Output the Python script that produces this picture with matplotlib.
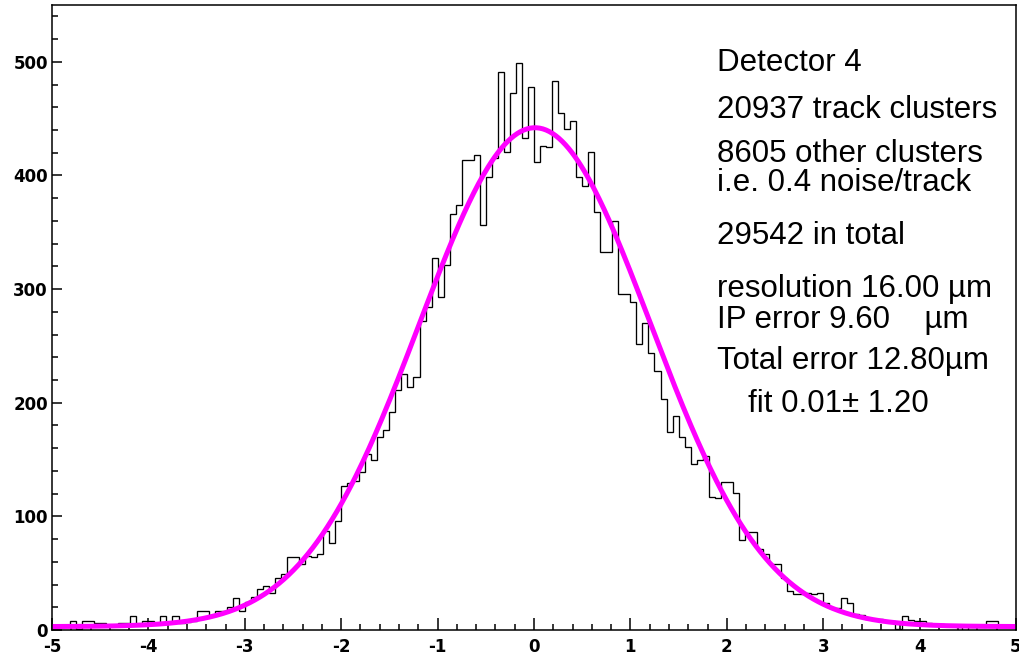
import numpy as np
import matplotlib
matplotlib.use("Agg")
import matplotlib.pyplot as plt
from matplotlib.ticker import MultipleLocator

# ---- data ----
x_min, x_max = -5.0, 5.0
n_bins = 160
counts = [
    3, 3, 4, 8, 1, 8, 8, 6, 6, 4,
    4, 6, 6, 12, 5, 8, 8, 5, 12, 7,
    12, 6, 7, 8, 17, 17, 13, 17, 17, 20,
    28, 17, 25, 29, 36, 39, 33, 46, 49, 64,
    64, 58, 65, 64, 67, 87, 77, 96, 127, 129,
    131, 139, 155, 150, 170, 176, 192, 211, 225, 214,
    223, 272, 284, 327, 293, 321, 366, 374, 414, 414,
    418, 356, 399, 415, 491, 421, 473, 499, 433, 478,
    412, 426, 425, 483, 455, 441, 448, 399, 391, 421,
    368, 333, 333, 360, 296, 296, 289, 252, 270, 244,
    228, 203, 174, 188, 170, 161, 146, 150, 153, 117,
    116, 130, 130, 121, 79, 86, 86, 71, 67, 58,
    58, 46, 34, 32, 32, 33, 32, 33, 24, 19,
    19, 28, 24, 14, 13, 10, 10, 10, 8, 8,
    1, 12, 9, 8, 8, 6, 5, 5, 4, 4,
    3, 0, 3, 3, 3, 8, 8, 3, 3, 3,
]
# fit parameters (Gaussian + flat background)
fit_mean = 0.01
fit_sigma = 1.20
fit_amp = 439.0
fit_bkg = 3.0

x_ticks = [-5, -4, -3, -2, -1, 0, 1, 2, 3, 4, 5]
y_ticks = [0, 100, 200, 300, 400, 500]

# (text, x offset px, baseline y px)
info_lines = [
    ("Detector 4", 0.0, 71),
    ("20937 track clusters", 0.0, 118),
    ("8605 other clusters", 0.0, 162),
    ("i.e. 0.4 noise/track", 0.0, 191),
    ("29542 in total", 0.0, 244),
    ("resolution 16.00 µm", 0.0, 297),
    ("IP error 9.60    µm", 0.0, 328),
    ("Total error 12.80µm", 0.0, 369),
    ("fit 0.01± 1.20", 31.0, 412),
]

# ---- figure ----
W, H = 1020, 657
fig = plt.figure(figsize=(W / 100, H / 100), dpi=100)
fig.patch.set_facecolor("white")
left_px, right_px, top_px, bot_px = 52, 1016, 5, 630
ax = fig.add_axes([left_px / W, 1 - bot_px / H, (right_px - left_px) / W, (bot_px - top_px) / H])

edges = np.linspace(x_min, x_max, n_bins + 1)
ax.stairs(counts, edges, color="black", linewidth=0.95, baseline=None)

xf = np.linspace(x_min, x_max, 600)
yf = fit_bkg + fit_amp * np.exp(-0.5 * ((xf - fit_mean) / fit_sigma) ** 2)
ax.plot(xf, yf, color="#ff00ff", linewidth=3.6, solid_capstyle="round")

ax.set_xlim(x_min, x_max)
ax.set_ylim(0, 550)
ax.set_xticks(x_ticks)
ax.set_yticks(y_ticks)
ax.xaxis.set_minor_locator(MultipleLocator(0.2))
ax.yaxis.set_minor_locator(MultipleLocator(20))

lab_font = dict(family=["DejaVu Sans"], weight="bold", size=12)
ax.set_xticklabels([str(t) for t in x_ticks], **lab_font)
ax.set_yticklabels([str(t) for t in y_ticks], **lab_font)
ax.tick_params(axis="x", which="major", direction="in", length=8.5, width=1.1, color="black",
               top=False, pad=5.5)
ax.tick_params(axis="x", which="minor", direction="in", length=4.5, width=1.1, color="black",
               top=False)
ax.tick_params(axis="y", which="major", direction="in", length=7.5, width=1.1, color="black",
               right=False, pad=3)
ax.tick_params(axis="y", which="minor", direction="in", length=4.0, width=1.1, color="black",
               right=False)
for s in ax.spines.values():
    s.set_linewidth(1.1)
    s.set_color("black")

for txt, dx, ypx in info_lines:
    fig.text((717 + dx) / W, 1 - ypx / H, txt, ha="left", va="baseline",
             family=["Liberation Sans", "DejaVu Sans"], fontsize=22.5, color="black")

fig.savefig("out.png", dpi=100, facecolor="white")
